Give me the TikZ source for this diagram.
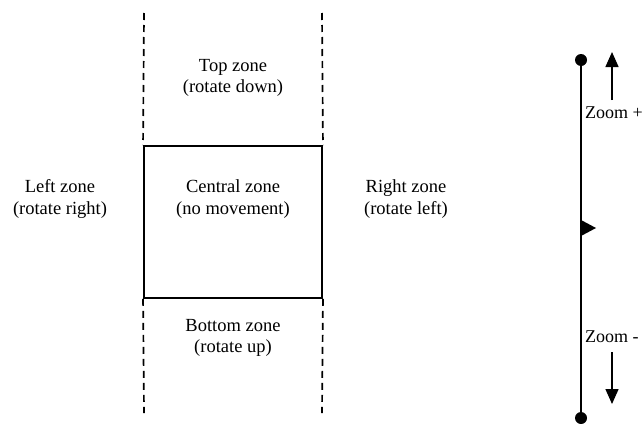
\documentclass[tikz,border=0pt]{standalone}
\usepackage{fontspec}
\setmainfont{Liberation Serif}
\usetikzlibrary{arrows.meta}
\begin{document}
\begin{tikzpicture}[x=1pt,y=-1pt,
  lbl/.style={align=center,font=\fontsize{18.5}{21.5}\selectfont,inner sep=0pt},
  zlbl/.style={anchor=west,font=\fontsize{18}{21}\selectfont,inner sep=0pt},
  dsh/.style={line width=1.7pt,dash pattern=on 7pt off 5pt},
  solid line/.style={line width=1.9pt},
  zarrow/.style={line width=1.4pt,-{Triangle[length=15pt,width=13pt]}},
  dot/.style={circle,fill=black,inner sep=0pt,minimum size=12pt}]
\useasboundingbox (0,0) rectangle (644,423);
% central rectangle
\node[draw,solid line,minimum width=178pt,minimum height=152pt,inner sep=0pt] (box) at (233,222) {};
% dashed guide ends
\coordinate (lt) at (144,13);
\coordinate (lb) at (144,413);
\coordinate (rt) at (322,13);
\coordinate (rb) at (322,413);
\draw[dsh] (lt) -- (box.north west);
\draw[dsh] (box.south west) -- (lb);
\draw[dsh] (rt) -- (box.north east);
\draw[dsh] (box.south east) -- (rb);
% labels
\node[lbl] (top) at (233,78) {Top zone\\(rotate down)};
\node[lbl] (cen) at (233,199) {Central zone\\(no movement)};
\node[lbl] (bot) at (233,338) {Bottom zone\\(rotate up)};
\node[lbl] (left) at (60,199) {Left zone\\(rotate right)};
\node[lbl] (right) at (406,199) {Right zone\\(rotate left)};
% zoom bar
\node[dot] (d1) at (581,60) {};
\node[dot] (d2) at (581,418) {};
\draw[solid line] (d1.center) -- (d2.center);
\coordinate (tri) at (581,228);
\fill (581,220) -- (596,228) -- (581,236) -- cycle;
\coordinate (ua) at (612,100);
\coordinate (ub) at (612,52);
\draw[zarrow] (ua) -- (ub);
\coordinate (da) at (612,352);
\coordinate (db) at (612,404);
\draw[zarrow] (da) -- (db);
\node[zlbl] (zp) at (585,113) {Zoom +};
\node[zlbl] (zm) at (585,337) {Zoom -};
\end{tikzpicture}
\end{document}
